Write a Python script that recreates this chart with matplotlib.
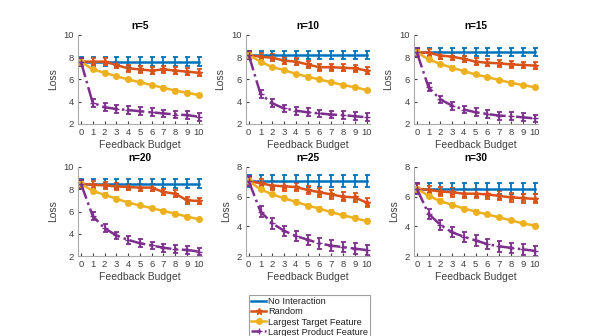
import numpy as np
import matplotlib.pyplot as plt
from matplotlib.lines import Line2D

plt.rcParams['font.family'] = ['Liberation Sans', 'DejaVu Sans']

budget = np.arange(11)
titles = ['n=5', 'n=10', 'n=15', 'n=20', 'n=25', 'n=30']
labels = ['No Interaction', 'Random', 'Largest Target Feature', 'Largest Product Feature']

# loss per panel, one list per method
no_interaction = [7.6, 8.2, 8.45, 8.5, 7.05, 6.55]
random_loss = [
    [7.6, 7.6, 7.6, 7.3, 7.0, 6.9, 6.8, 6.9, 6.8, 6.7, 6.6],
    [8.2, 8.05, 7.95, 7.7, 7.6, 7.35, 7.1, 7.1, 7.05, 7.0, 6.8],
    [8.45, 8.4, 8.15, 8.05, 7.85, 7.6, 7.5, 7.45, 7.35, 7.3, 7.25],
    [8.5, 8.4, 8.35, 8.25, 8.2, 8.15, 8.15, 7.75, 7.6, 7.0, 6.95],
    [7.05, 6.9, 6.75, 6.7, 6.65, 6.45, 6.3, 6.15, 6.0, 5.95, 5.6],
    [6.55, 6.45, 6.35, 6.3, 6.2, 6.2, 6.15, 6.05, 5.95, 5.9, 5.85],
]
target_loss = [
    [7.6, 6.9, 6.6, 6.3, 6.0, 5.75, 5.5, 5.25, 5.0, 4.8, 4.6],
    [8.2, 7.6, 7.1, 6.85, 6.5, 6.25, 6.0, 5.75, 5.5, 5.3, 5.05],
    [8.45, 7.8, 7.4, 7.05, 6.75, 6.45, 6.2, 5.95, 5.7, 5.5, 5.3],
    [8.5, 7.85, 7.5, 7.15, 6.8, 6.55, 6.3, 6.05, 5.8, 5.55, 5.3],
    [7.05, 6.5, 6.15, 5.9, 5.65, 5.4, 5.2, 4.95, 4.75, 4.55, 4.35],
    [6.55, 6.05, 5.7, 5.45, 5.2, 5.0, 4.8, 4.6, 4.4, 4.2, 4.05],
]
product_loss = [
    [7.6, 3.9, 3.5, 3.35, 3.25, 3.15, 3.05, 2.95, 2.85, 2.8, 2.65],
    [8.2, 4.7, 3.85, 3.4, 3.2, 3.05, 2.95, 2.85, 2.8, 2.7, 2.6],
    [8.45, 5.3, 4.2, 3.65, 3.3, 3.05, 2.9, 2.75, 2.7, 2.6, 2.5],
    [8.5, 5.6, 4.5, 3.85, 3.45, 3.15, 2.95, 2.75, 2.6, 2.55, 2.4],
    [7.05, 5.0, 4.2, 3.7, 3.35, 3.1, 2.85, 2.7, 2.6, 2.5, 2.4],
    [6.55, 4.85, 4.1, 3.6, 3.3, 3.05, 2.8, 2.65, 2.55, 2.45, 2.35],
]
# error bar half widths
err_none = 0.38
err_random = 0.3
err_target = 0.12
err_product = 0.35

ylims = [(2, 10), (2, 10), (2, 10), (2, 10), (2, 8), (2, 8)]

blue = '#0072BD'
red = '#D95319'
yellow = '#EDB120'
purple = '#7E2F8E'
txt = '#404040'

fig = plt.figure(figsize=(5.98, 3.36), dpi=100)
lefts = [0.1304, 0.411, 0.692]
bottoms = [0.631, 0.238]
w, h = 0.207, 0.265

for i in range(6):
    ax = fig.add_axes([lefts[i % 3], bottoms[i // 3], w, h])
    ekw = dict(capsize=1.8, elinewidth=1.3, capthick=1.3, lw=1.8)
    ax.errorbar(budget, [no_interaction[i]] * 11, yerr=err_none, color=blue, **ekw)
    ax.errorbar(budget, random_loss[i], yerr=err_random, color=red,
                marker='*', ms=5, **ekw)
    ax.errorbar(budget, target_loss[i], yerr=err_target, color=yellow,
                marker='o', ms=4, **ekw)
    ax.errorbar(budget, product_loss[i], yerr=err_product, color=purple,
                marker='+', ms=5, ls='-.', **ekw)
    ax.set_xlim(-0.25, 10.25)
    ax.set_ylim(*ylims[i])
    ax.set_xticks(budget)
    ax.set_yticks(np.arange(ylims[i][0], ylims[i][1] + 1, 2))
    ax.tick_params(direction='in', labelsize=6.8, colors=txt, length=2.5, pad=3)
    for s in ['top', 'right']:
        ax.spines[s].set_visible(False)
    for s in ['left', 'bottom']:
        ax.spines[s].set_color('#aaaaaa')
        ax.spines[s].set_linewidth(0.8)
    ax.set_title(titles[i], fontsize=7.2, fontweight='bold', pad=4)
    ax.set_xlabel('Feedback Budget', fontsize=7.5, color=txt, labelpad=2)
    ax.set_ylabel('Loss', fontsize=7.5, color=txt, labelpad=4)

handles = [
    Line2D([], [], color=blue, lw=1.8),
    Line2D([], [], color=red, lw=1.8, marker='*', ms=5),
    Line2D([], [], color=yellow, lw=1.8, marker='o', ms=4),
    Line2D([], [], color=purple, lw=1.8, marker='+', ms=5, ls='--'),
]
leg = fig.legend(handles, labels, loc='upper left', bbox_to_anchor=(249 / 598, 1 - 295 / 336),
                 fontsize=6.7, handlelength=1.6, handletextpad=0.2, borderpad=0.25,
                 labelspacing=0.12, fancybox=False, frameon=True, borderaxespad=0)
leg.get_frame().set_edgecolor('#888888')
leg.get_frame().set_linewidth(0.8)
for t in leg.get_texts():
    t.set_color('#202020')

fig.savefig('out.png', dpi=100)
